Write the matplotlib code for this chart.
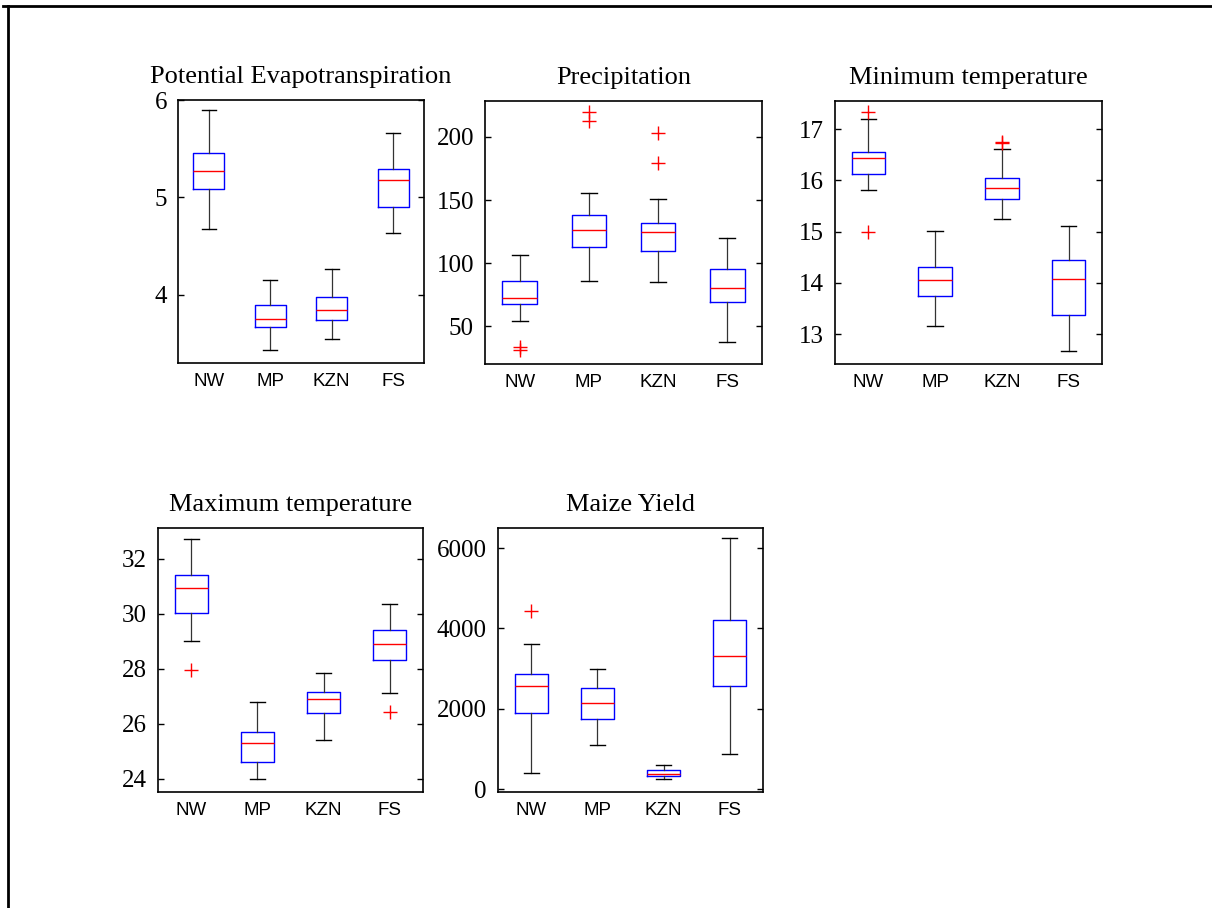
import matplotlib
matplotlib.use("Agg")
import matplotlib.pyplot as plt
from matplotlib.lines import Line2D

categories = ["NW", "MP", "KZN", "FS"]

titles = ["Potential Evapotranspiration", "Precipitation", "Minimum temperature",
          "Maximum temperature", "Maize Yield"]

# box statistics per panel: (whislo, q1, med, q3, whishi), per category
pet_stats = [(4.68, 5.085, 5.276, 5.454, 5.90),
             (3.43, 3.669, 3.751, 3.894, 4.150),
             (3.543, 3.737, 3.846, 3.973, 4.263),
             (4.631, 4.904, 5.177, 5.29, 5.66)]
pet_fliers = [[], [], [], []]

pre_stats = [(54.0, 67.7, 72.7, 86.2, 106.3),
             (86.2, 112.6, 126.1, 138.2, 155.6),
             (84.9, 109.7, 124.7, 132.1, 150.9),
             (37.9, 69.0, 80.1, 95.7, 119.7)]
pre_fliers = [[34.0, 31.0], [219.8, 212.9], [202.9, 179.4], []]

tmin_stats = [(15.82, 16.13, 16.43, 16.55, 17.195),
              (13.16, 13.74, 14.05, 14.32, 15.02),
              (15.24, 15.64, 15.85, 16.04, 16.62),
              (12.67, 13.38, 14.07, 14.44, 15.11)]
tmin_fliers = [[17.34, 15.0], [], [16.76, 16.74], []]

tmax_stats = [(29.0, 30.04, 30.95, 31.40, 32.71),
              (23.98, 24.62, 25.30, 25.69, 26.77),
              (25.40, 26.38, 26.88, 27.16, 27.85),
              (27.11, 28.33, 28.90, 29.41, 30.37)]
tmax_fliers = [[27.95], [], [], [26.42]]

yield_stats = [(405, 1900, 2568, 2877, 3620),
               (1106, 1741, 2133, 2518, 2994),
               (246, 321, 371, 488, 597),
               (872, 2568, 3311, 4221, 6250)]
yield_fliers = [[4438], [], [], []]

ylims = [(3.30, 6.0), (20.2, 228.5), (12.42, 17.55), (23.51, 33.12), (-71, 6501)]
yticks = [[4, 5, 6], [50, 100, 150, 200], [13, 14, 15, 16, 17],
          [24, 26, 28, 30, 32], [0, 2000, 4000, 6000]]

all_stats = [pet_stats, pre_stats, tmin_stats, tmax_stats, yield_stats]
all_fliers = [pet_fliers, pre_fliers, tmin_fliers, tmax_fliers, yield_fliers]

W, H = 1212, 908
fig = plt.figure(figsize=(W / 100, H / 100), dpi=100)

# axes pixel boxes: left, right, top, bottom
boxes_px = [(178, 424, 100, 363), (485, 762, 101, 364), (835, 1102, 101, 364),
            (158, 423, 528, 792), (498, 763, 528, 792)]

serif = "Liberation Serif"
sans = "Liberation Sans"

for i in range(5):
    l, r, t, b = boxes_px[i]
    ax = fig.add_axes([l / W, 1 - b / H, (r - l) / W, (b - t) / H])
    bxp = []
    for j, cat in enumerate(categories):
        lo, q1, med, q3, hi = all_stats[i][j]
        bxp.append(dict(label=cat, whislo=lo, q1=q1, med=med, q3=q3,
                        whishi=hi, fliers=all_fliers[i][j]))
    ax.bxp(bxp, positions=[1, 2, 3, 4], widths=0.5, capwidths=0.23,
           boxprops=dict(color="#0000ff", linewidth=1.0),
           medianprops=dict(color="#ff0000", linewidth=1.0),
           whiskerprops=dict(color="#333333", linewidth=0.9),
           capprops=dict(color="black", linewidth=1.0),
           flierprops=dict(marker="+", markeredgecolor="#ff0000",
                           markersize=10, markeredgewidth=1.0, linestyle="none"))
    ax.set_xlim(0.5, 4.5)
    ax.set_ylim(*ylims[i])
    ax.set_yticks(yticks[i])
    ax.set_xticks([1, 2, 3, 4])
    ax.set_xticklabels(categories, fontfamily=sans, fontsize=13.5)
    ax.tick_params(axis="x", length=0, pad=7)
    ax.tick_params(axis="y", direction="in", length=4, right=True, left=True,
                   labelsize=18, pad=8, width=1.0)
    for lab in ax.get_yticklabels():
        lab.set_fontfamily(serif)
    for s in ax.spines.values():
        s.set_linewidth(1.2)
    ax.set_title(titles[i], fontfamily=serif, fontsize=19, pad=12)

# outer frame (top and left edges)
fig.add_artist(Line2D([3 / W, 1], [1 - 6 / H, 1 - 6 / H], color="black",
                      linewidth=2.0, transform=fig.transFigure))
fig.add_artist(Line2D([7.5 / W, 7.5 / W], [0, 1 - 6 / H], color="black",
                      linewidth=2.0, transform=fig.transFigure))

fig.savefig("out.png", dpi=100)
